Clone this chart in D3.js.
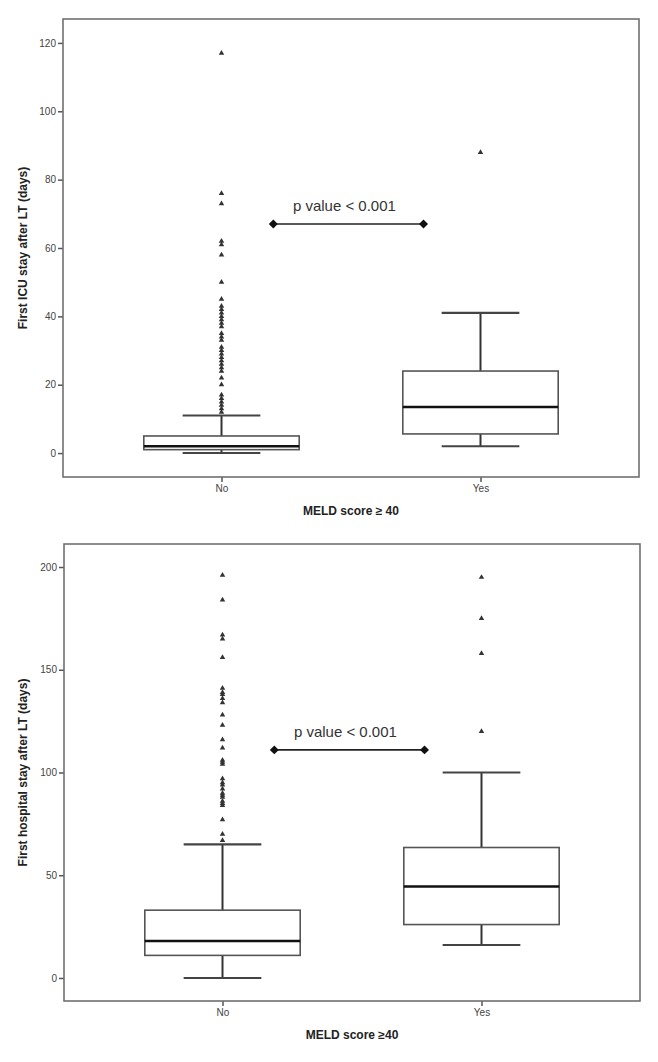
<!DOCTYPE html>
<html lang="en">
<head>
  <meta charset="UTF-8" />
  <title>D3 - MELD box plots</title>
  <script src="https://d3js.org/d3.v7.min.js" charset="utf-8"></script>
  <style type="text/css">
  body {
    margin: 0;
    background: #fff;
  }
  svg {
    display: block;
    font-family: "Liberation Sans", Arial, sans-serif;
  }
  .tick text {
    fill: #444;
    font-size: 10px;
  }
  .tick line {
    stroke: #555;
    stroke-width: 1.5;
  }
  path.domain {
    stroke: none;
  }
  .title {
    font-weight: bold;
    font-size: 12px;
    fill: #222;
  }
  </style>
</head>
<body>
<script type="text/javascript">

// values
const categories = ["No", "Yes"];

// [lower whisker, Q1, median, Q3, upper whisker]
const icuBoxNo = [0, 1, 2, 5, 11];
const icuBoxYes = [2, 5.6, 13.5, 24, 41];
const icuOutliersNo = [12, 13, 14, 15, 16, 17, 20, 22, 24, 25, 26, 27, 28, 29, 30, 31,
  33, 34, 35, 37, 38, 39, 40, 41, 42, 43, 45, 50, 58, 61, 62, 73, 76, 117];
const icuOutliersYes = [88];
const icuTicks = [0, 20, 40, 60, 80, 100, 120];
const icuPValueAt = 67;

const hospBoxNo = [0, 11, 18, 33, 65];
const hospBoxYes = [16, 26, 44.5, 63.5, 100];
const hospOutliersNo = [67, 70, 77, 84, 85, 86, 88, 89, 90, 92, 94, 95, 97, 104, 105, 106,
  112, 116, 123, 128, 134, 136, 138, 139, 141, 156, 165, 167, 184, 196];
const hospOutliersYes = [120, 158, 175, 195];
const hospTicks = [0, 50, 100, 150, 200];
const hospPValueAt = 111;

const W = 658, H = 1062;

const svg = d3.select("body").append("svg")
    .attr("width", W)
    .attr("height", H);

function drawPanel(p) {
  const x = d3.scalePoint()
      .domain(categories)
      .range([p.left, p.right])
      .padding(0.612);
  const step = x.step();

  const y = d3.scaleLinear()
      .domain(p.domain)
      .range([p.bottom, p.top]);

  const g = svg.append("g");

  // y axis
  g.append("g")
      .attr("transform", `translate(${p.left},0)`)
      .call(d3.axisLeft(y).tickValues(p.ticks).tickSize(5).tickPadding(2));

  // x axis
  g.append("g")
      .attr("transform", `translate(0,${p.bottom})`)
      .call(d3.axisBottom(x).tickSize(5).tickPadding(3));

  // frame
  g.append("rect")
      .attr("x", p.left)
      .attr("y", p.top)
      .attr("width", p.right - p.left)
      .attr("height", p.bottom - p.top)
      .attr("fill", "none")
      .attr("stroke", "#707070")
      .attr("stroke-width", 1.6);

  const boxes = [
    { cat: "No", s: p.boxNo, out: p.outNo },
    { cat: "Yes", s: p.boxYes, out: p.outYes }
  ];

  const bw = step * 0.6, cw = step * 0.3;

  const b = g.selectAll("g.box")
    .data(boxes)
    .enter().append("g")
      .attr("class", "box");

  // whiskers
  b.append("line")
      .attr("x1", d => x(d.cat)).attr("x2", d => x(d.cat))
      .attr("y1", d => y(d.s[0])).attr("y2", d => y(d.s[1]))
      .attr("stroke", "#333").attr("stroke-width", 2);
  b.append("line")
      .attr("x1", d => x(d.cat)).attr("x2", d => x(d.cat))
      .attr("y1", d => y(d.s[3])).attr("y2", d => y(d.s[4]))
      .attr("stroke", "#333").attr("stroke-width", 2);
  b.append("line")
      .attr("x1", d => x(d.cat) - cw / 2).attr("x2", d => x(d.cat) + cw / 2)
      .attr("y1", d => y(d.s[0])).attr("y2", d => y(d.s[0]))
      .attr("stroke", "#444").attr("stroke-width", 2);
  b.append("line")
      .attr("x1", d => x(d.cat) - cw / 2).attr("x2", d => x(d.cat) + cw / 2)
      .attr("y1", d => y(d.s[4])).attr("y2", d => y(d.s[4]))
      .attr("stroke", "#444").attr("stroke-width", 2.2);

  // box
  b.append("rect")
      .attr("x", d => x(d.cat) - bw / 2)
      .attr("width", bw)
      .attr("y", d => y(d.s[3]))
      .attr("height", d => y(d.s[1]) - y(d.s[3]))
      .attr("fill", "#fff")
      .attr("stroke", "#555")
      .attr("stroke-width", 1.6);

  // median
  b.append("line")
      .attr("x1", d => x(d.cat) - bw / 2).attr("x2", d => x(d.cat) + bw / 2)
      .attr("y1", d => y(d.s[2])).attr("y2", d => y(d.s[2]))
      .attr("stroke", "#111").attr("stroke-width", 2.6);

  // outliers
  const tri = d3.symbol().type(d3.symbolTriangle).size(13);
  b.each(function(d) {
    d3.select(this).selectAll("path.out")
      .data(d.out)
      .enter().append("path")
        .attr("class", "out")
        .attr("d", tri)
        .attr("fill", "#333")
        .attr("transform", v => `translate(${x(d.cat)},${y(v)})`);
  });

  // p value bracket
  const px0 = x("No") + step * 0.2, px1 = x("Yes") - step * 0.22;
  const py = y(p.pAt);
  g.append("line")
      .attr("x1", px0).attr("x2", px1)
      .attr("y1", py).attr("y2", py)
      .attr("stroke", "#222").attr("stroke-width", 1.6);
  g.selectAll("path.dia")
    .data([px0, px1])
    .enter().append("path")
      .attr("class", "dia")
      .attr("d", d3.symbol().type(d3.symbolSquare).size(40))
      .attr("fill", "#111")
      .attr("transform", v => `translate(${v},${py}) rotate(45)`);
  g.append("text")
      .attr("x", (px0 + px1) / 2 - 4)
      .attr("y", py - 13)
      .attr("text-anchor", "middle")
      .attr("font-size", 15)
      .attr("fill", "#333")
      .text("p value < 0.001");

  // axis titles
  g.append("text")
      .attr("class", "title")
      .attr("x", (p.left + p.right) / 2)
      .attr("y", p.bottom + 38)
      .attr("text-anchor", "middle")
      .text(p.xTitle);
  g.append("text")
      .attr("class", "title")
      .attr("transform", `translate(27,${(p.top + p.bottom) / 2}) rotate(-90)`)
      .attr("text-anchor", "middle")
      .text(p.yTitle);
}

drawPanel({
  left: 63, right: 639, top: 19, bottom: 477,
  domain: [-7, 127], ticks: icuTicks,
  boxNo: icuBoxNo, boxYes: icuBoxYes,
  outNo: icuOutliersNo, outYes: icuOutliersYes,
  pAt: icuPValueAt,
  xTitle: "MELD score \u2265 40",
  yTitle: "First ICU stay after LT (days)"
});

drawPanel({
  left: 64, right: 640, top: 544, bottom: 1001,
  domain: [-11.2, 211.2], ticks: hospTicks,
  boxNo: hospBoxNo, boxYes: hospBoxYes,
  outNo: hospOutliersNo, outYes: hospOutliersYes,
  pAt: hospPValueAt,
  xTitle: "MELD score \u226540",
  yTitle: "First hospital stay after LT (days)"
});

</script>
</body>
</html>
